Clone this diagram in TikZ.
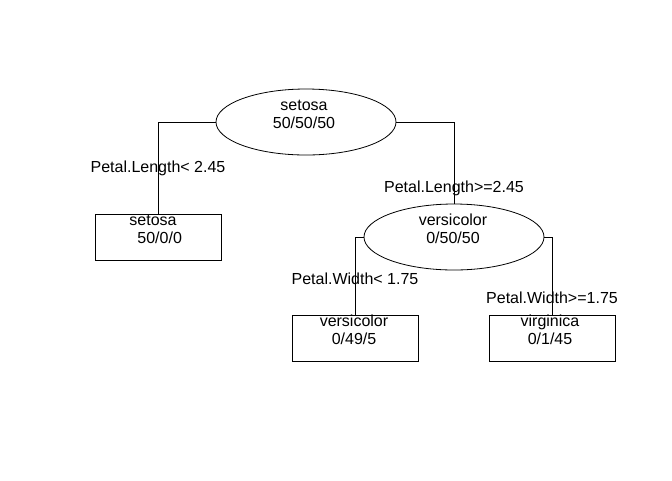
\documentclass[tikz,border=0pt]{standalone}
\usepackage{fontspec}
\setmainfont{Liberation Sans}
\usetikzlibrary{shapes.geometric}
\begin{document}
\begin{tikzpicture}[x=0.75pt,y=-0.75pt,
  every node/.style={font=\fontsize{12}{13.5}\selectfont},
  split/.style={draw, ellipse, line width=0.6pt, minimum width=135pt, minimum height=49.5pt, inner sep=0pt},
  leaf/.style={draw, rectangle, line width=0.6pt, minimum width=94.5pt, minimum height=34.5pt, inner sep=0pt},
  info/.style={align=center, inner sep=0pt},
  cond/.style={inner sep=0pt},
  branch/.style={line width=0.6pt}]
\useasboundingbox (0,0) rectangle (672,480);

% tree nodes
\node[split] (root) at (306,122) {};
\node[leaf]  (setosa) at (158,237) {};
\node[split] (vers) at (454,237) {};
\node[leaf]  (versleaf) at (355,338) {};
\node[leaf]  (virg) at (552,338) {};

% class counts inside the nodes
\node[info] (root-t)     at (304,114) {setosa\\50/50/50};
\node[info] (setosa-t)   at (153,229) {setosa\\\hspace*{10pt}50/0/0};
\node[info] (vers-t)     at (453,229) {versicolor\\0/50/50};
\node[info] (versleaf-t) at (354,330) {versicolor\\0/49/5};
\node[info] (virg-t)     at (550,330) {virginica\\0/1/45};

% branches
\draw[branch] (root.west) -| (setosa.north);
\draw[branch] (root.east) -| (vers.north);
\draw[branch] (vers.west) -| (versleaf.north);
\draw[branch] (vers.east) -| (virg.north);

% split conditions
\node[cond] (c1) at (158,168) {Petal.Length< 2.45};
\node[cond] (c2) at (454,188) {Petal.Length>=2.45};
\node[cond] (c3) at (355,279) {Petal.Width< 1.75};
\node[cond] (c4) at (552,298) {Petal.Width>=1.75};
\end{tikzpicture}
\end{document}
